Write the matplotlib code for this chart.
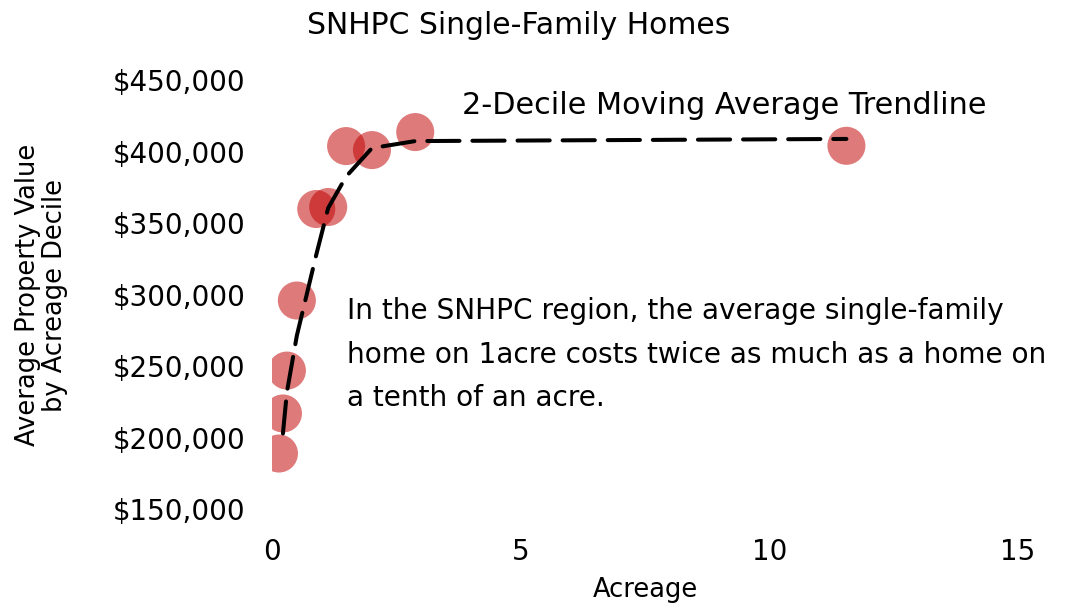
import numpy as np
import matplotlib.pyplot as plt
from matplotlib.ticker import FuncFormatter

plt.rcParams['font.family'] = ['DejaVu Sans']

# average acreage / property value per acreage decile
acreage = [0.14, 0.22, 0.30, 0.50, 0.89, 1.13, 1.49, 2.01, 2.88, 11.55]
value = [188800, 216800, 246800, 295800, 359800, 361200, 403800, 401000, 413600, 404000]

title = 'SNHPC Single-Family Homes'
trend_label = '2-Decile Moving Average Trendline'
note = ('In the SNHPC region, the average single-family\n'
        'home on 1acre costs twice as much as a home on\n'
        'a tenth of an acre.')

x = np.array(acreage)
y = np.array(value)
# excel style moving average: plotted at the x of the last point in the window
ma_x = x[1:]
ma_y = (y[1:] + y[:-1]) / 2

fig = plt.figure(figsize=(10.7, 6.09), dpi=100)
ax = fig.add_axes([0.2542, 0.1642, 0.9514 - 0.2542, 0.8686 - 0.1642])

ax.scatter(x, y, s=750, color='#C00000', alpha=0.52, edgecolors='none', zorder=2)
ax.plot(ma_x, ma_y, color='black', lw=2.9, linestyle=(0, (8, 3.2)),
        dash_capstyle='round', zorder=3)

ax.set_xlim(0, 15)
ax.set_ylim(150000, 450000)
ax.set_xticks([0, 5, 10, 15])
ax.set_yticks(np.arange(150000, 450001, 50000))
ax.yaxis.set_major_formatter(FuncFormatter(lambda v, p: '${:,.0f}'.format(v)))
ax.tick_params(length=0, labelsize=20)
ax.tick_params(axis='y', pad=19)
ax.tick_params(axis='x', pad=21)
for s in ax.spines.values():
    s.set_visible(False)

fig.text(645 / 1070, 1 - 590 / 609, 'Acreage', fontsize=18.5, ha='center', va='center')
fig.text(42 / 1070, 1 - 295 / 609, 'Average Property Value\nby Acreage Decile',
         fontsize=18.5, ha='center', va='center', rotation=90, linespacing=1.05)
fig.text(519 / 1070, 1 - 25 / 609, title, ha='center', va='center', fontsize=21.5)

ax.text(3.83, 432500, trend_label, fontsize=21.8, va='center', ha='left',
        bbox=dict(facecolor='white', edgecolor='none', pad=1))
ax.text(1.51, 258000, note, fontsize=20.2, va='center', ha='left', linespacing=1.7)

fig.savefig('out.png', dpi=100)
